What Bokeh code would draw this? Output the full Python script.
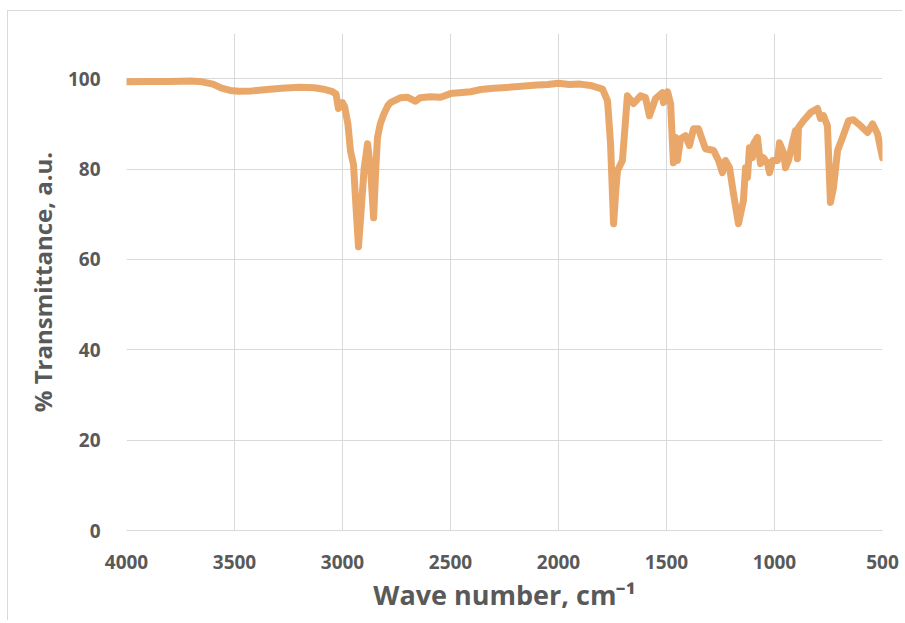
from bokeh.plotting import figure
from bokeh.models import Range1d, FixedTicker
from bokeh.embed import file_html
from bokeh.resources import INLINE

# Data
wavenumber = [4000, 3900, 3800, 3700, 3650, 3600, 3560, 3520, 3480, 3420, 3350, 3280, 3200,
              3130, 3080, 3050, 3030, 3019, 3008, 3000, 2990, 2975, 2963, 2949, 2938, 2926,
              2915, 2900, 2884, 2870, 2856, 2846, 2838, 2825, 2810, 2790, 2778, 2731, 2700,
              2662, 2640, 2593, 2546, 2500, 2407, 2360, 2300, 2200, 2100, 2050, 2000, 1950,
              1900, 1852, 1796, 1773, 1759, 1745, 1735, 1727, 1704, 1681, 1653, 1620, 1597,
              1579, 1551, 1519, 1514, 1495, 1481, 1468, 1458, 1449, 1435, 1412, 1394, 1375,
              1352, 1320, 1282, 1259, 1241, 1227, 1208, 1190, 1167, 1144, 1134, 1125, 1116,
              1102, 1097, 1079, 1065, 1051, 1032, 1023, 1009, 986, 977, 958, 949, 935, 917,
              903, 894, 889, 866, 833, 801, 787, 773, 755, 741, 727, 708, 685, 657, 634, 602,
              569, 546, 523, 500]
transmittance = [99.3, 99.4, 99.4, 99.5, 99.3, 98.8, 97.9, 97.4, 97.2, 97.3, 97.6, 97.9, 98.1,
                 98.0, 97.6, 97.2, 96.6, 93.4, 94.0, 94.7, 93.8, 90.0, 84.0, 81.0, 72.0, 62.8,
                 70.0, 80.0, 85.6, 80.0, 69.2, 80.0, 87.0, 90.0, 92.0, 94.0, 94.7, 95.8, 95.9,
                 95.0, 95.8, 96.0, 95.9, 96.7, 97.1, 97.6, 97.9, 98.2, 98.6, 98.7, 99.0, 98.7,
                 98.8, 98.5, 97.7, 95.1, 85.6, 67.9, 75.0, 79.6, 81.9, 96.2, 94.5, 96.2, 95.8,
                 91.8, 95.6, 96.9, 94.7, 97.1, 94.5, 81.4, 87.0, 81.9, 86.7, 87.4, 85.2, 88.9,
                 88.9, 84.5, 84.1, 81.9, 79.2, 81.9, 80.3, 74.6, 67.9, 73.0, 80.3, 78.1, 84.7,
                 82.5, 85.6, 87.0, 81.2, 82.5, 81.2, 79.2, 81.9, 81.9, 85.8, 83.6, 80.3, 81.9,
                 85.8, 88.5, 82.3, 89.2, 90.7, 92.5, 93.4, 91.2, 91.8, 89.6, 72.6, 75.9, 84.1,
                 87.0, 90.7, 90.9, 89.6, 88.1, 90.0, 87.8, 82.5]

x_ticks = [4000, 3500, 3000, 2500, 2000, 1500, 1000, 500]
y_ticks = [0, 20, 40, 60, 80, 100]

FONT = "Open Sans"
TXT = "#595959"
GRID = "#d9d9d9"

p = figure(width=895, height=610, output_backend="svg", toolbar_location=None,
           x_range=Range1d(4000, 500), y_range=Range1d(0, 110),
           min_border_left=118, min_border_right=21, min_border_top=22, min_border_bottom=91)
p.styles = {"border-top": "1px solid #d9d9d9", "border-left": "1px solid #d9d9d9",
            "margin-left": "7px", "margin-top": "10px"}
p.outline_line_color = None
p.background_fill_color = "white"
p.border_fill_color = "white"

p.line(wavenumber, transmittance, line_color="#E9A262", line_width=7, line_join="round",
       line_cap="round", line_alpha=0.95)

p.xaxis.ticker = FixedTicker(ticks=x_ticks)
p.yaxis.ticker = FixedTicker(ticks=y_ticks)
p.xgrid.ticker = FixedTicker(ticks=x_ticks)
p.ygrid.ticker = FixedTicker(ticks=y_ticks)
p.xgrid.grid_line_color = GRID
p.ygrid.grid_line_color = GRID

for ax in (p.xaxis, p.yaxis):
    ax.major_tick_line_color = None
    ax.minor_tick_line_color = None
    ax.major_label_text_font = FONT
    ax.major_label_text_font_style = "bold"
    ax.major_label_text_font_size = "19px"
    ax.major_label_text_color = TXT
    ax.axis_label_text_font = FONT
    ax.axis_label_text_font_style = "bold"
    ax.axis_label_text_color = TXT
    ax.major_label_standoff = 20

p.xaxis.major_label_standoff = 18
p.xaxis.axis_line_color = GRID
p.yaxis.axis_line_color = None
p.xaxis.axis_label = "Wave number, cm\u207b\u00b9"
p.yaxis.axis_label = "% Transmittance, a.u."
p.xaxis.axis_label_text_font_size = "27px"
p.yaxis.axis_label_text_font_size = "24px"
p.xaxis.axis_label_standoff = 4
p.yaxis.axis_label_standoff = 6

open("out.html", "w").write(file_html(p, INLINE))
